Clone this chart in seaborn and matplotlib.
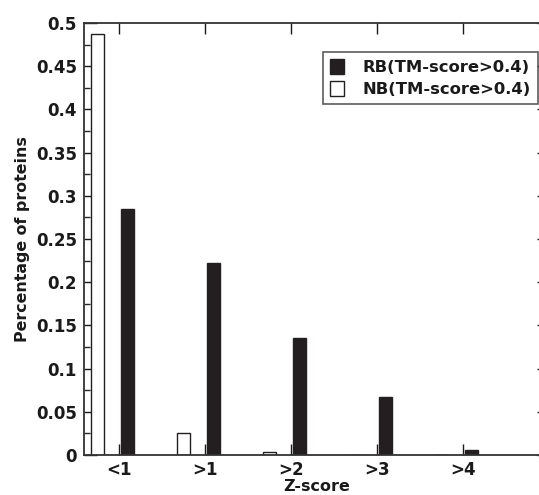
import numpy as np
import pandas as pd
import matplotlib
matplotlib.use("Agg")
import matplotlib.pyplot as plt
import seaborn as sns
from matplotlib.ticker import MultipleLocator, FuncFormatter
from matplotlib.patches import Patch

# ---- data ----
categories = ["<1", ">1", ">2", ">3", ">4"]
rb_values = [0.285, 0.222, 0.135, 0.067, 0.006]
nb_values = [0.487, 0.025, 0.003, 0.0, 0.0]
rb_name = "RB(TM-score>0.4)"
nb_name = "NB(TM-score>0.4)"

df = pd.DataFrame({
    "Z-score": categories + categories,
    "value": nb_values + rb_values,
    "series": [nb_name] * len(categories) + [rb_name] * len(categories),
})

sns.set_theme(style="ticks")
plt.rcParams["font.family"] = ["DejaVu Sans"]
plt.rcParams["font.weight"] = "bold"
plt.rcParams["axes.labelweight"] = "bold"

ink = "#231f20"
txt = "#1a1a1a"
W, H = 539, 495
fig = plt.figure(figsize=(W / 100, H / 100), dpi=100)
left, right, top, bottom = 84, 549, 23, 455
ax = fig.add_axes([left / W, 1 - bottom / H, (right - left) / W, (bottom - top) / H])

sns.barplot(
    data=df, x="Z-score", y="value", hue="series",
    order=categories, hue_order=[nb_name, rb_name],
    palette={nb_name: "white", rb_name: ink},
    width=0.7, gap=0.57, edgecolor=ink, linewidth=1.0,
    saturation=1, errorbar=None, legend=False, ax=ax,
)

ax.set_xlim(-0.33, 5.08)
ax.set_ylim(0, 0.5)
# tick marks sit just left of the dark bar, as in the reference
ax.set_xticks(np.arange(len(categories)) + 0.08)
ax.set_xticklabels(categories)
ax.yaxis.set_major_locator(MultipleLocator(0.05))
ax.yaxis.set_minor_locator(MultipleLocator(0.025))
ax.yaxis.set_major_formatter(FuncFormatter(lambda v, p: f"{v:g}"))

for s in ax.spines.values():
    s.set_linewidth(1.3)
    s.set_color("#333333")
    s.set_visible(True)

ax.tick_params(axis="y", which="major", direction="in", length=9, width=1.0,
               left=True, right=True, labelsize=12, pad=5, colors=txt)
ax.tick_params(axis="y", which="minor", direction="in", length=4, width=1.0,
               left=True, right=False)
ax.tick_params(axis="x", which="major", direction="in", length=8, width=1.0,
               top=True, bottom=True, labelsize=12, pad=4.5, colors=txt)

for lab in ax.get_xticklabels() + ax.get_yticklabels():
    lab.set_fontweight("bold")

ax.set_xlabel("Z-score", fontsize=11.5, fontweight="bold", labelpad=0, color=txt)
ax.set_ylabel("Percentage of proteins", fontsize=11.4, fontweight="bold", labelpad=4, color=txt)

handles = [Patch(facecolor=ink, edgecolor=ink, linewidth=1.0),
           Patch(facecolor="white", edgecolor=ink, linewidth=1.0)]
leg = ax.legend(handles, [rb_name, nb_name], loc="upper right",
                bbox_to_anchor=(538 / W, 1 - 52 / H), bbox_transform=fig.transFigure,
                prop={"weight": "bold", "size": 11.8}, frameon=True, fancybox=False,
                handlelength=0.8, handleheight=1.0, handletextpad=1.15,
                borderpad=0.45, labelspacing=0.35, borderaxespad=0)
leg.get_frame().set_edgecolor("#333333")
leg.get_frame().set_linewidth(1.2)
for t in leg.get_texts():
    t.set_color(txt)

fig.savefig("out.png", dpi=100)
